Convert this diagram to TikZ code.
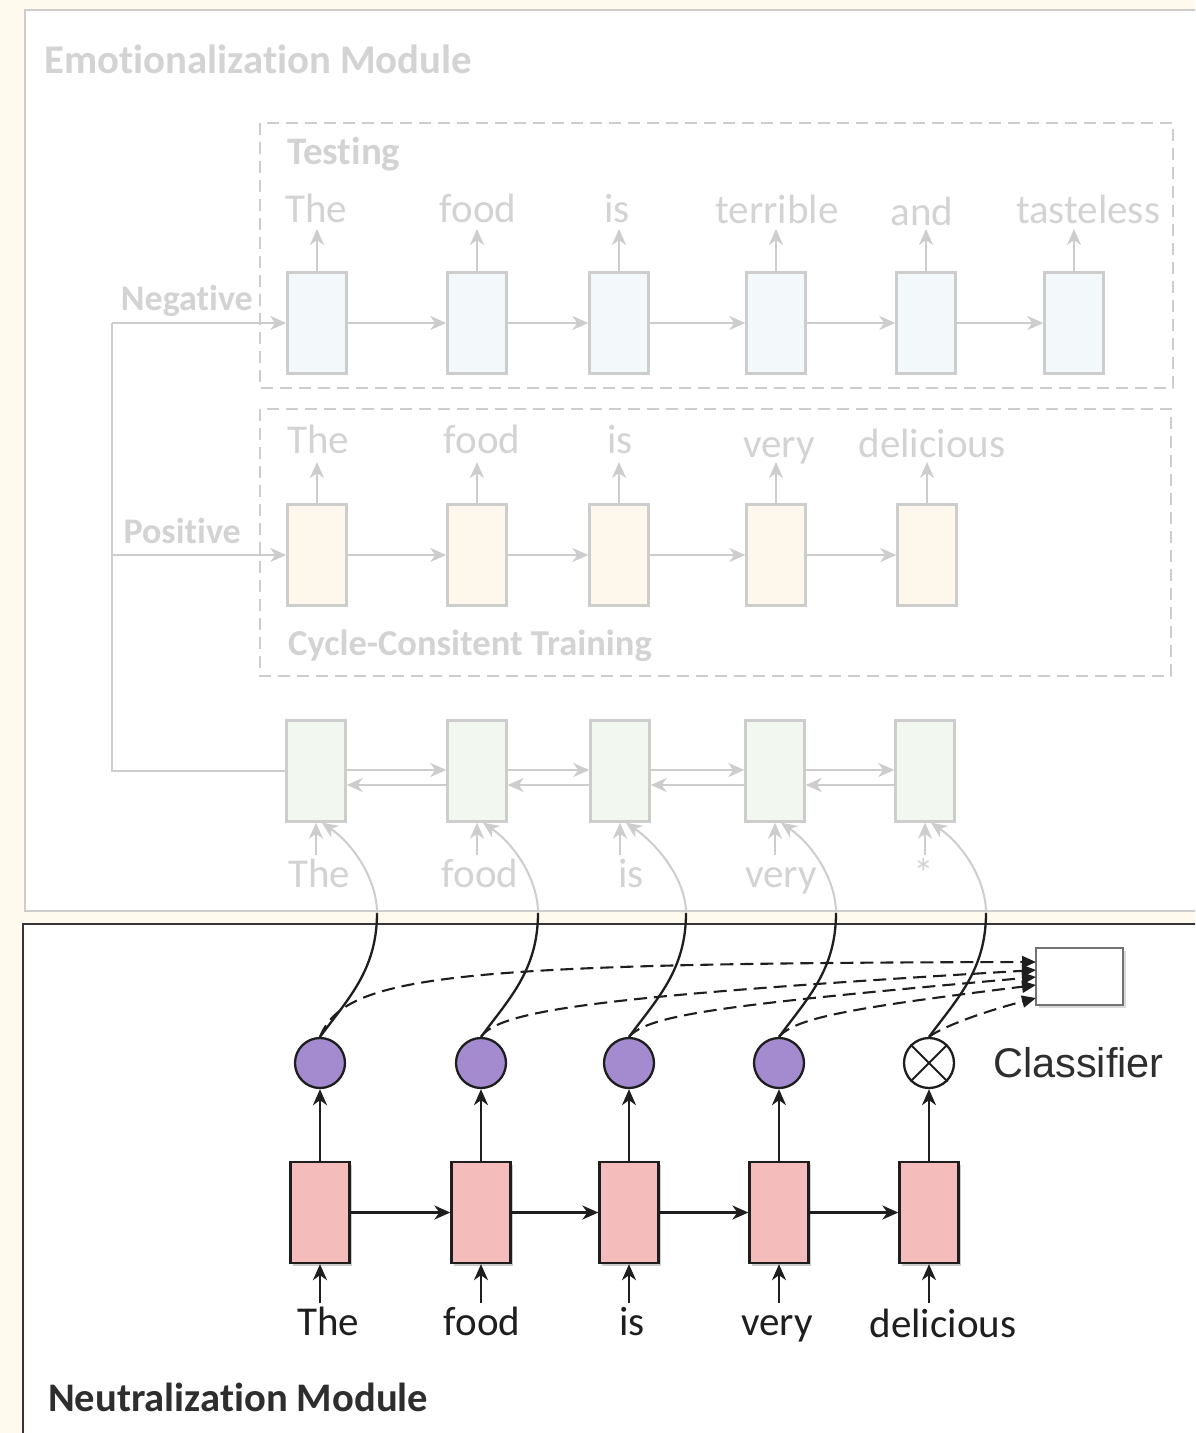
\documentclass[tikz,border=0pt]{standalone}
\usepackage{fontspec}
\setmainfont{Carlito}[Ligatures=NoCommon]
\newfontfamily\arialfont{Liberation Sans}
\usetikzlibrary{arrows.meta,shadows}

\definecolor{cream}{HTML}{FFF9EE}
\definecolor{fadeline}{HTML}{CDCDCD}
\definecolor{fadetext}{HTML}{D3D3D3}
\definecolor{cellblue}{HTML}{F3F8FB}
\definecolor{cellorange}{HTML}{FEF7EC}
\definecolor{cellgreen}{HTML}{F2F7F0}
\definecolor{cellpink}{HTML}{F4BCBA}
\definecolor{gatefill}{HTML}{A48BCF}
\definecolor{ink}{HTML}{1E1E1E}
\definecolor{darktext}{HTML}{2E2E2E}

\begin{document}
\begin{tikzpicture}[x=1pt,y=-1pt,
  fadecell/.style={draw=fadeline, line width=2.4pt, minimum width=59pt, minimum height=101pt, inner sep=0pt},
  fadeword/.style={text=fadetext, font=\fontsize{41pt}{49pt}\selectfont, inner sep=0pt, anchor=base},
  fadetitle/.style={text=fadetext, font=\bfseries\fontsize{#1}{#1}\selectfont, inner sep=0pt},
  fadearrow/.style={draw=fadeline, line width=2.4pt, -{Stealth[length=16pt,width=14pt,inset=5pt]}},
  fadeedge/.style={draw=fadeline, line width=2.4pt},
  fadebox/.style={draw=fadeline, line width=2pt, dash pattern=on 12pt off 7pt},
  pinkcell/.style={draw=ink, fill=cellpink, line width=2.3pt, minimum width=59pt, minimum height=101pt, inner sep=0pt,
    drop shadow={shadow xshift=2.5pt, shadow yshift=-2.5pt, fill=black, opacity=0.2}},
  gate/.style={circle, draw=ink, line width=2.3pt, minimum size=50pt, inner sep=0pt},
  inkword/.style={text=ink, font=\fontsize{41pt}{49pt}\selectfont, inner sep=0pt, anchor=base},
  inkarrow/.style={draw=ink, line width=2.3pt, -{Stealth[length=16pt,width=14pt,inset=5pt]}},
  inkdash/.style={draw=ink, line width=2.1pt, dash pattern=on 13pt off 7pt, -{Triangle[length=14pt,width=12pt]}}]

\useasboundingbox (0,0) rectangle (1195,1433);
\clip (0,0) rectangle (1195,1433);
\fill[cream] (0,0) rectangle (1195,1433);

% module frames
\draw[fadeline, line width=2.6pt, fill=white] (25,10) rectangle (1215,911);
\draw[ink!90, line width=2.6pt, fill=white] (23,924) rectangle (1215,1450);

\node[fadetitle=40.8pt, anchor=base west] (emtitle) at (44,73) {Emotionalization Module};

% phase frames
\draw[fadebox] (260,123) rectangle (1173,388);
\draw[fadebox] (260,409) rectangle (1171,676);
\node[fadetitle=39pt, anchor=base west] (testing) at (287,164) {Testing};
\node[fadetitle=36.5pt, anchor=base west] (cycle) at (288,655) {Cycle-Consitent Training};
\node[fadetitle=36pt, anchor=base east] (neg) at (253,310) {Negative};
\node[fadetitle=36pt, anchor=base east] (pos) at (241,543) {Positive};

% negative decoder
\foreach \i/\x/\lx/\ly/\w in {1/317/316/222/The, 2/477/478/222/food, 3/619/617/222/is,
    4/776/777/223/terrible, 5/926/922/225/and, 6/1074/1088/223/tasteless}{
  \node[fadecell, fill=cellblue] (n\i) at (\x,323) {};
  \node[fadeword] (nw\i) at (\lx,\ly) {\w};
  \coordinate (nt\i) at (\x,229);
  \draw[fadearrow] (n\i.north) -- (nt\i);
}
\foreach \a/\b in {1/2,2/3,3/4,4/5,5/6}
  \draw[fadearrow] (n\a) -- (n\b);

% positive decoder
\foreach \i/\x/\lx/\ly/\w in {1/317/318/453/The, 2/477/482/453/food, 3/619/620/453/is,
    4/776/779/457/very, 5/927/932/457/delicious}{
  \node[fadecell, fill=cellorange] (p\i) at (\x,555) {};
  \node[fadeword] (pw\i) at (\lx,\ly) {\w};
  \coordinate (pt\i) at (\x,462);
  \draw[fadearrow] (p\i.north) -- (pt\i);
}
\foreach \a/\b in {1/2,2/3,3/4,4/5}
  \draw[fadearrow] (p\a) -- (p\b);

% bidirectional encoder
\foreach \i/\x/\lx/\w in {1/316/319/The, 2/477/480/food, 3/620/631/is, 4/775/781/very, 5/925/924/*}{
  \node[fadecell, fill=cellgreen] (g\i) at (\x,771) {};
  \node[fadeword] (gw\i) at (\lx,887) {\w};
  \coordinate (gs\i) at (\x,855);
  \draw[fadearrow] (gs\i) -- (g\i.south);
}
\foreach \a/\b in {1/2,2/3,3/4,4/5}{
  \draw[fadearrow] ([yshift=1pt]g\a.east) -- ([yshift=1pt]g\b.west);
  \draw[fadearrow] ([yshift=-14pt]g\b.west) -- ([yshift=-14pt]g\a.east);
}

% sentiment routing
\coordinate (fa) at (112,323);
\coordinate (fb) at (112,555);
\coordinate (fc) at (112,771);
\draw[fadearrow] (fa) -- (n1.west);
\draw[fadearrow] (fb) -- (p1.west);
\draw[fadeedge] (fa) -- (fc) -- (g1.west);

% neutralization module
\node[font=\bfseries\fontsize{40.6pt}{40pt}\selectfont, text=darktext, inner sep=0pt, anchor=base west]
  (neutitle) at (48,1411) {Neutralization Module};

\foreach \i/\x/\lx/\ly/\w in {1/320/328/1335/The, 2/481/482/1335/food, 3/629/632/1335/is,
    4/779/777/1335/very, 5/929/943/1337/delicious}{
  \node[pinkcell] (r\i) at (\x,1212.5) {};
  \node[inkword] (rw\i) at (\lx,\ly) {\w};
  \coordinate (rs\i) at (\x,1303);
  \draw[inkarrow] (rs\i) -- (r\i.south);
}
\foreach \a/\b in {1/2,2/3,3/4,4/5}
  \draw[inkarrow] (r\a) -- (r\b);

\foreach \i in {1,2,3,4}
  \node[gate, fill=gatefill] (c\i) at (r\i |- 0,1063) {};
\node[gate, fill=white] (c5) at (r5 |- 0,1063) {};
\draw[ink, line width=2pt] (c5.45) -- (c5.225) (c5.135) -- (c5.315);
\foreach \i in {1,...,5}
  \draw[inkarrow] (r\i.north) -- (c\i.south);

% classifier
\node[draw=black!55, line width=2.2pt, fill=white, minimum width=87pt, minimum height=57pt, inner sep=0pt,
  drop shadow={shadow xshift=2.5pt, shadow yshift=-2.5pt, fill=black, opacity=0.15}] (cls) at (1079.5,976.5) {};
\node[font=\arialfont\fontsize{41.5pt}{41pt}\selectfont, text=darktext, inner sep=0pt, anchor=base west]
  (clslabel) at (993,1077) {Classifier};

% attention links from the neutral states back to the encoder inputs
\foreach \i in {1,...,5}{
  \coordinate (j\i) at ([xshift=57pt]c\i.north |- 0,913);
  \draw[ink, line width=2.3pt] (c\i.north) .. controls +(28,-38) and +(0,57) .. (j\i);
  \draw[fadearrow, line width=2pt] (j\i) .. controls +(0,-33) and +(32,22) .. ([xshift=6pt]g\i.south);
}

% dashed feeds into the classifier
\coordinate (k1) at (1036,962);
\coordinate (k2) at (1036,970);
\coordinate (k3) at (1036,977);
\coordinate (k4) at (1036,985);
\coordinate (k5) at (1036,998);
\draw[inkdash] (c1.north) .. controls (345,975) and (450,963) .. (k1);
\draw[inkdash] (c2.north) .. controls (500,1010) and (600,996) .. (k2);
\draw[inkdash] (c3.north) .. controls (648,1015) and (720,1005) .. (k3);
\draw[inkdash] (c4.north) .. controls (795,1018) and (850,1008) .. (k4);
\draw[inkdash] (c5.north) .. controls (945,1025) and (990,1010) .. (k5);

\end{tikzpicture}
\end{document}
